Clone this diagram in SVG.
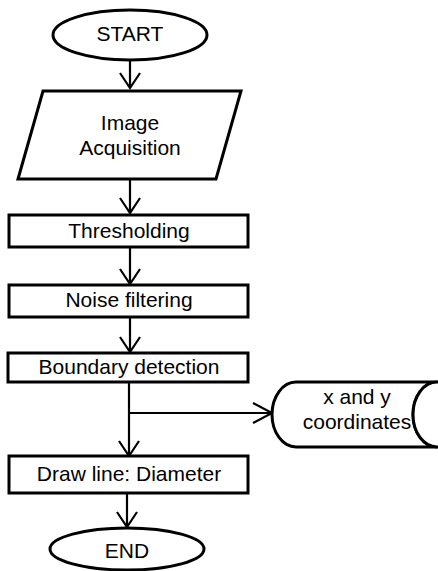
<svg xmlns="http://www.w3.org/2000/svg" width="438" height="571" viewBox="0 0 438 571">
<style>
.s{fill:#fff;stroke:#000;stroke-width:3}
.t{font-family:"Liberation Sans",Arial,sans-serif;font-size:21px;fill:#000;text-anchor:middle}
.c{fill:none;stroke:#000;stroke-width:2.2}
</style>
<rect width="438" height="571" fill="#fff"/>
<g id="connectors">
<path class="c" d="M130,60V88M120,73L130,88L140,73"/>
<path class="c" d="M130,180V213M120,198L130,213L140,198"/>
<path class="c" d="M130,247V284M120,269L130,284L140,269"/>
<path class="c" d="M130,317V352M120,337L130,352L140,337"/>
<path class="c" d="M129,382V456M119,441L129,456L139,441"/>
<path class="c" d="M129,413H272M253,403L272,413L253,423"/>
<path class="c" d="M127,493V527M117,512L127,527L137,512"/>
</g>
<g id="start"><ellipse class="s" cx="130" cy="35" rx="77" ry="25"/><text class="t" x="130" y="41">START</text></g>
<g id="acq"><polygon class="s" points="43,91 241,91 216,179 18,179"/><text class="t" x="130" y="130">Image</text><text class="t" x="130" y="155">Acquisition</text></g>
<g id="thresh"><rect class="s" x="9" y="215" width="239" height="32"/><text class="t" x="129" y="238">Thresholding</text></g>
<g id="noise"><rect class="s" x="9" y="285" width="239" height="32"/><text class="t" x="129" y="307">Noise filtering</text></g>
<g id="boundary"><rect class="s" x="8" y="353" width="240" height="29"/><text class="t" x="129" y="374">Boundary detection</text></g>
<g id="coords"><path class="s" d="M296,382H437A24,32.5 0 0 0 437,447H296A24,32.5 0 0 1 296,382Z"/><ellipse class="s" cx="437" cy="414.5" rx="24" ry="32.5"/><text class="t" x="357" y="404">x and y</text><text class="t" x="357" y="429">coordinates</text></g>
<g id="draw"><rect class="s" x="9" y="456" width="239" height="37"/><text class="t" x="129" y="481">Draw line: Diameter</text></g>
<g id="end"><ellipse class="s" cx="127" cy="549" rx="77" ry="21"/><text class="t" x="127" y="558">END</text></g>
</svg>
